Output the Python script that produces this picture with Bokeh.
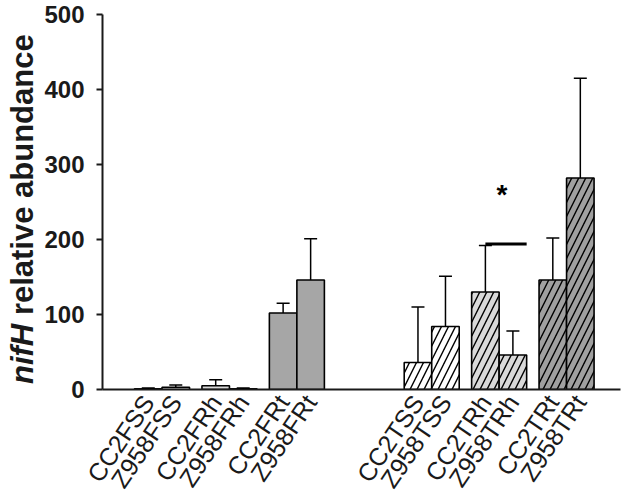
import math
from bokeh.plotting import figure
from bokeh.layouts import row
from bokeh.models import ColumnDataSource, Whisker, TeeHead, FixedTicker, Range1d, Div
from bokeh.core.properties import value
from bokeh.embed import file_html
from bokeh.resources import INLINE

# ---- data ----
categories = ["CC2FSS", "Z958FSS", "CC2FRh", "Z958FRh", "CC2FRt", "Z958FRt",
              "CC2TSS", "Z958TSS", "CC2TRh", "Z958TRh", "CC2TRt", "Z958TRt"]
means = [1, 3, 5, 1, 102, 146, 36, 84, 130, 46, 146, 282]
errors = [1, 3, 8, 1, 13, 55, 74, 67, 62, 32, 56, 133]
group_slot = [0, 0, 1, 1, 2, 2, 4, 4, 5, 5, 6, 6]
pair_side = [-1, 1, -1, 1, -1, 1, -1, 1, -1, 1, -1, 1]
fills = ["#ffffff", "#ffffff", "#d9d9d9", "#d9d9d9", "#a6a6a6", "#a6a6a6",
         "#ffffff", "#ffffff", "#d9d9d9", "#d9d9d9", "#a0a0a0", "#a0a0a0"]
hatches = [" "] * 6 + ["/"] * 6
y_ticks = [0, 100, 200, 300, 400, 500]
y_title_gene = "nifH"
y_title_rest = "relative abundance"
sig_pair = (8, 9)
sig_y = 194
star_y = 260

FONT = "Liberation Sans"
INK = "#1a1a1a"
BW = 0.408
xs = [g + s * BW / 2 for g, s in zip(group_slot, pair_side)]
uppers = [m + e for m, e in zip(means, errors)]

src = ColumnDataSource(dict(x=xs, top=means, upper=uppers, fill=fills,
                            hatch=hatches, cat=categories))

# ---- narrow panel holding the y-axis title (mixed italic / bold) ----
TW, H = 40, 504
title_html = (
    '<div style="writing-mode: vertical-rl; transform: rotate(180deg); '
    'height: 370px; margin-top: 14px; margin-left: 6px; width: 34px; '
    "font: bold 31px 'Liberation Sans', Arial, sans-serif; color: #1a1a1a; "
    'white-space: nowrap; line-height: 34px; text-align: left;">'
    f'<i>{y_title_gene}</i> {y_title_rest}</div>'
)
title_div = Div(text=title_html, width=TW, height=H, margin=0)

# ---- main chart ----
p = figure(width=630 - TW, height=H, output_backend="svg", toolbar_location=None,
           x_range=Range1d(-0.883, 6.80), y_range=Range1d(0, 500),
           min_border_left=62, min_border_right=10, min_border_top=14,
           min_border_bottom=115)
p.outline_line_color = None
p.xgrid.grid_line_color = None
p.ygrid.grid_line_color = None

p.vbar(x="x", top="top", bottom=0, width=BW, source=src, fill_color="fill",
       line_color="black", line_width=1.6, hatch_pattern="hatch",
       hatch_color="black", hatch_scale=14, hatch_weight=1.4)

wh = Whisker(source=src, base="x", lower="top", upper="upper", dimension="height",
             line_color="black", line_width=1.5,
             upper_head=TeeHead(size=13, line_width=1.5, line_color="black"),
             lower_head=None, level="overlay")
p.add_layout(wh)

# significance marker
x0 = xs[sig_pair[0]]
x1 = xs[sig_pair[1]] + BW / 2
p.segment(x0=[x0], y0=[sig_y], x1=[x1], y1=[sig_y], line_color="black", line_width=3)
p.text(x=[x0 + 0.4 * (x1 - x0)], y=[star_y], text=["*"], text_align="center",
       text_baseline="middle", text_font=value(FONT), text_font_size="28px",
       text_font_style="bold", text_color="black")

# y axis
ya = p.yaxis[0]
ya.ticker = FixedTicker(ticks=y_ticks)
ya.minor_tick_line_color = None
ya.major_tick_in = 0
ya.major_tick_out = 6
ya.major_tick_line_width = 2
ya.axis_line_width = 2
ya.axis_line_color = INK
ya.major_tick_line_color = INK
ya.major_label_text_font = FONT
ya.major_label_text_font_size = "24px"
ya.major_label_text_font_style = "bold"
ya.major_label_text_color = INK
ya.major_label_standoff = 12

# x axis
xa = p.xaxis[0]
xa.ticker = FixedTicker(ticks=xs)
xa.major_label_overrides = {x: c for x, c in zip(xs, categories)}
xa.major_label_orientation = math.radians(56)
xa.major_tick_line_color = None
xa.minor_tick_line_color = None
xa.major_tick_in = 0
xa.major_tick_out = 0
xa.axis_line_width = 2
xa.axis_line_color = INK
xa.major_label_text_font = FONT
xa.major_label_text_font_size = "25px"
xa.major_label_text_color = INK
xa.major_label_standoff = 8

layout = row(title_div, p, spacing=0)
open("out.html", "w").write(file_html(layout, INLINE))
